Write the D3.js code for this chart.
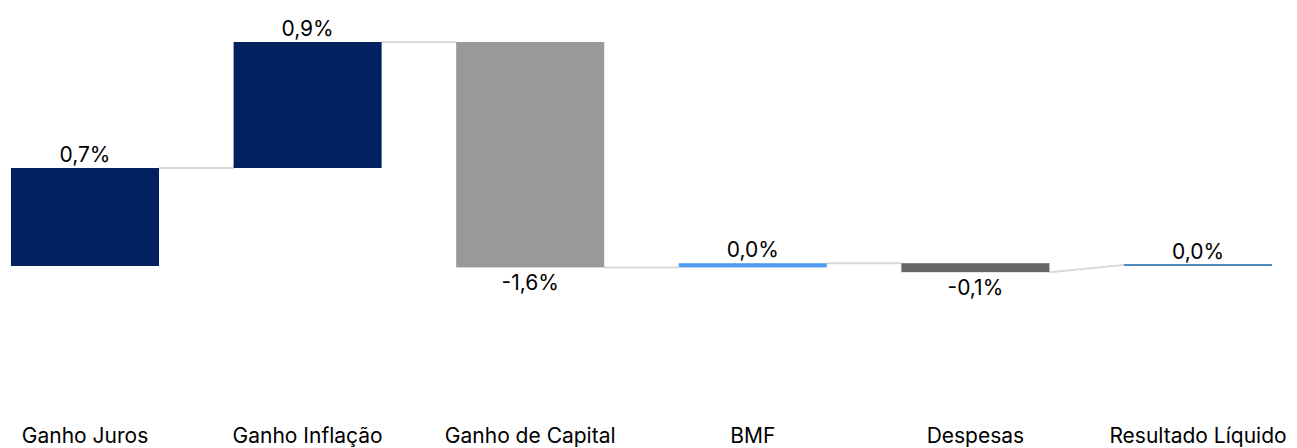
<!DOCTYPE html>
<html>
<head>
<meta charset="utf-8">
<script src="https://cdn.jsdelivr.net/npm/d3@7"></script>
<style>
  body { margin: 0; background: #fff; }
  svg { display: block; font-family: Inter, "Noto Sans", sans-serif; }
  .label { font-size: 21px; fill: #000; }
</style>
</head>
<body>
<svg width="1297" height="448"></svg>
<script>
// waterfall data (% points)
const categories = ['Ganho Juros', 'Ganho Inflação', 'Ganho de Capital', 'BMF', 'Despesas', 'Resultado Líquido'];
const values = [0.70, 0.90, -1.61, 0.03, -0.064, 0.007];
const isTotal = [false, false, false, false, false, true];

const svg = d3.select('svg');

const x = d3.scaleBand()
    .domain(categories)
    .range([-26.3, 1309.3])
    .paddingInner(0.335)
    .paddingOuter(0.1675);

// 0 sits at y=266, 1.6% at the top of the tallest bar
const y = d3.scaleLinear()
    .domain([0, 1.6])
    .range([266, 42]);

const color = d3.scaleOrdinal()
    .domain(categories)
    .range(['#03215f', '#03215f', '#999999', '#4f9cf3', '#666666', '#1a66a8']);

const fmt = v => d3.format('.1f')(v).replace('.', ',').replace('−', '-') + '%';

// build start/end for every step
let cum = 0;
const steps = categories.map((c, i) => {
    let start, end;
    if (isTotal[i]) { start = 0; end = values[i]; }
    else { start = cum; end = cum + values[i]; cum = end; }
    return { cat: c, value: values[i], start, end, total: isTotal[i] };
});

// connectors
const conn = svg.append('g');
steps.slice(0, -1).forEach((d, i) => {
    const next = steps[i + 1];
    conn.append('line')
        .attr('x1', x(d.cat) + x.bandwidth())
        .attr('x2', x(next.cat))
        .attr('y1', y(d.end))
        .attr('y2', y(next.total ? next.end : next.start))
        .attr('stroke', '#d9d9d9')
        .attr('stroke-width', 2);
});

// bars
svg.append('g').selectAll('rect').data(steps.filter(d => !d.total))
    .enter().append('rect')
        .attr('x', d => x(d.cat))
        .attr('width', x.bandwidth())
        .attr('y', d => y(Math.max(d.start, d.end)))
        .attr('height', d => Math.abs(y(d.start) - y(d.end)))
        .attr('fill', d => color(d.cat));

// total drawn as a thin line
svg.append('g').selectAll('line').data(steps.filter(d => d.total))
    .enter().append('line')
        .attr('x1', d => x(d.cat))
        .attr('x2', d => x(d.cat) + x.bandwidth())
        .attr('y1', d => y(d.end))
        .attr('y2', d => y(d.end))
        .attr('stroke', d => color(d.cat))
        .attr('stroke-width', 1.5);

// value labels
svg.append('g').selectAll('text').data(steps)
    .enter().append('text')
        .attr('class', 'label')
        .attr('text-anchor', 'middle')
        .attr('x', d => x(d.cat) + x.bandwidth() / 2)
        .attr('y', d => d.value >= 0
            ? y(Math.max(d.start, d.end)) - 6
            : y(Math.min(d.start, d.end)) + 23)
        .text(d => fmt(d.value));

// category axis, no line or ticks
const xAxis = d3.axisBottom(x).tickSize(0).tickPadding(0);
svg.append('g')
    .attr('transform', 'translate(0, 428)')
    .call(xAxis)
    .call(g => g.select('.domain').remove())
    .selectAll('text')
        .attr('dy', null)
        .attr('y', 15)
        .style('font-size', '21px')
        .style('font-family', 'Inter, "Noto Sans", sans-serif')
        .attr('fill', '#000');
</script>
</body>
</html>
